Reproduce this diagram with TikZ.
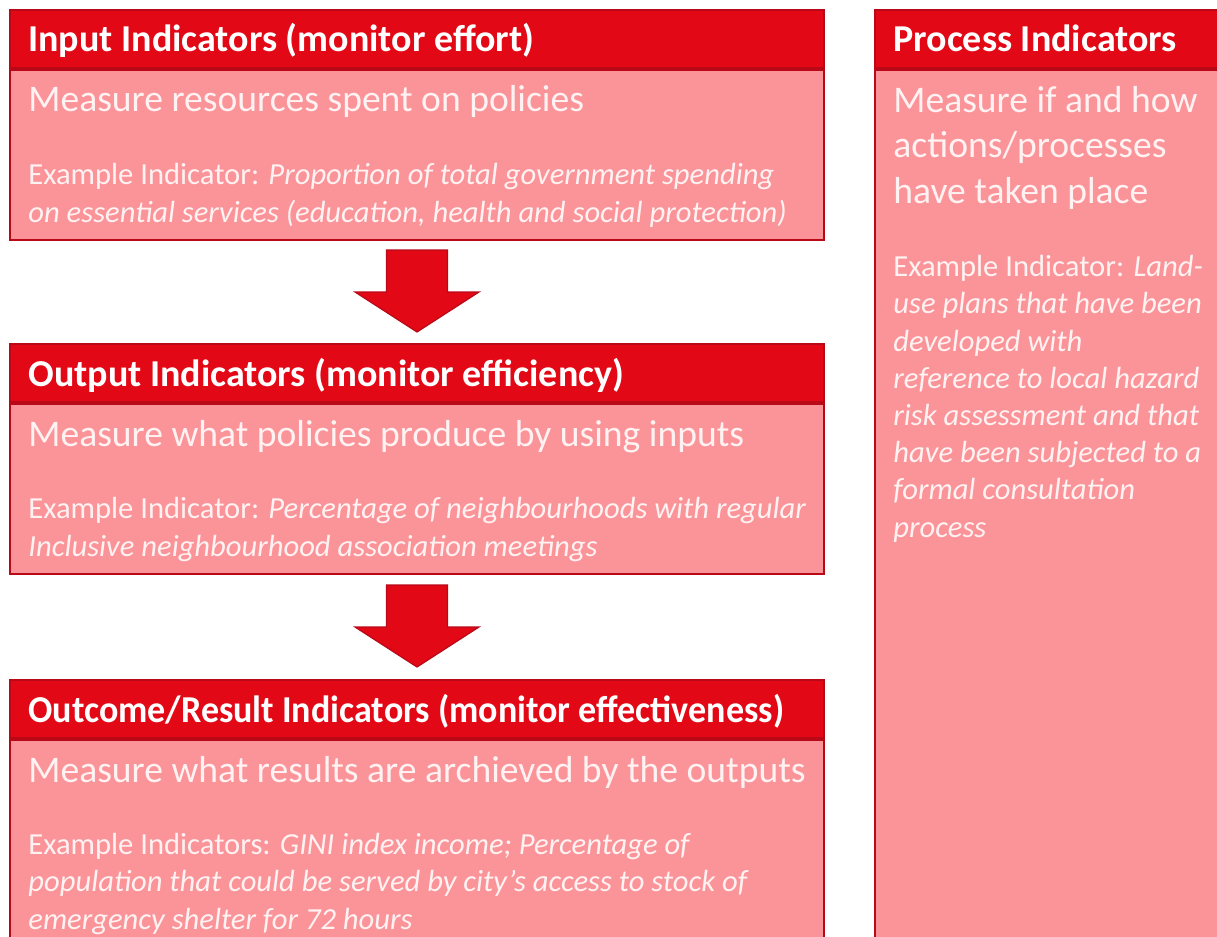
\documentclass[tikz,border=0pt]{standalone}
\usepackage{fontspec}
\usepackage{graphicx}
\setmainfont{Carlito}
\usetikzlibrary{positioning,calc}

\definecolor{hdred}{RGB}{226,8,22}
\definecolor{hdedge}{RGB}{185,8,24}
\definecolor{panelpink}{RGB}{251,148,153}
\definecolor{paletext}{RGB}{255,242,242}

\tikzset{
  hdbox/.style={draw=hdedge,fill=hdred,line width=1pt,minimum height=29pt,inner sep=0pt},
  panel/.style={draw=hdedge,fill=panelpink,line width=1pt,inner sep=0pt},
  hdtext/.style={text=white,font=\bfseries\fontsize{19}{23}\selectfont,inner sep=0pt,anchor=base west},
  leadtext/.style={text=paletext,font=\fontsize{18.8}{22.75}\selectfont,inner sep=0pt,anchor=base west,align=left},
  egtext/.style={text=paletext,font=\fontsize{15.3}{18.6}\selectfont,inner sep=0pt,anchor=base west,align=left},
  blockarrow/.style={draw=hdedge,fill=hdred,line width=0.6pt,line join=miter}
}

\begin{document}
\begin{tikzpicture}[x=0.5pt,y=-0.5pt]
  \useasboundingbox (0,0) rectangle (1217,937);
  \clip (0,0) rectangle (1217,937);

  % left column
  \node[hdbox,minimum width=407pt,anchor=north west] (inhead) at (9,9) {};
  \node[panel,minimum width=407pt,minimum height=85pt,below=0pt of inhead] (inbody) {};
  \node[hdbox,minimum width=407pt,anchor=north west] (outhead) at (9,343) {};
  \node[panel,minimum width=407pt,minimum height=85pt,below=0pt of outhead] (outbody) {};
  \node[hdbox,minimum width=407pt,anchor=north west] (reshead) at (9,679) {};
  \node[panel,minimum width=407pt,minimum height=110pt,below=0pt of reshead] (resbody) {};

  % right column
  \node[hdbox,minimum width=180pt,anchor=north west] (prochead) at (874,9) {};
  \node[panel,minimum width=180pt,minimum height=450pt,below=0pt of prochead] (procbody) {};

  % arrows between the boxes
  \coordinate (arr1) at ($(inbody.south)!0.5!(outhead.north)$);
  \coordinate (arr2) at ($(outbody.south)!0.5!(reshead.north)$);
  \foreach \a in {arr1,arr2}
    \draw[blockarrow] ($(\a)+(-30.5,-42)$) -- ($(\a)+(30.5,-42)$) -- ($(\a)+(30.5,0)$)
      -- ($(\a)+(62,0)$) -- ($(\a)+(0,40)$) -- ($(\a)+(-62,0)$) -- ($(\a)+(-30.5,0)$) -- cycle;

  % input (multi-line nodes sit on their last baseline)
  \node[hdtext] (inlabel) at (28,52) {Input Indicators (monitor effort)};
  \node[leadtext] (inlead) at (28,112) {Measure resources spent on policies};
  \node[egtext] (ineg) at (28,222) {Example Indicator: \textit{Proportion of total government spending}\\
    \textit{on essential services (education, health and social protection)}};

  % output
  \node[hdtext] (outlabel) at (28,386) {Output Indicators (monitor efficiency)};
  \node[leadtext] (outlead) at (28,446) {Measure what policies produce by using inputs};
  \node[egtext] (outeg) at (28,556) {Example Indicator: \textit{Percentage of neighbourhoods with regular}\\
    \textit{Inclusive neighbourhood association meetings}};

  % outcome
  \node[hdtext] (reslabel) at (28,722) {\scalebox{0.948}[1]{Outcome/Result Indicators (monitor effectiveness)}};
  \node[leadtext] (reslead) at (28,782) {Measure what results are archieved by the outputs};
  \node[egtext] (reseg) at (28,929) {Example Indicators: \textit{GINI index income; Percentage of}\\
    \textit{population that could be served by city’s access to stock of}\\
    \textit{emergency shelter for 72 hours}};

  % process
  \node[hdtext] (proclabel) at (893,52) {Process Indicators};
  \node[leadtext] (proclead) at (893,203) {Measure if and how\\actions/processes\\have taken place};
  \node[egtext] (proceg) at (893,537) {Example Indicator: \textit{Land-}\\
    \textit{use plans that have been}\\
    \textit{developed with}\\
    \textit{reference to local hazard}\\
    \textit{risk assessment and that}\\
    \textit{have been subjected to a}\\
    \textit{formal consultation}\\
    \textit{process}};
\end{tikzpicture}
\end{document}
